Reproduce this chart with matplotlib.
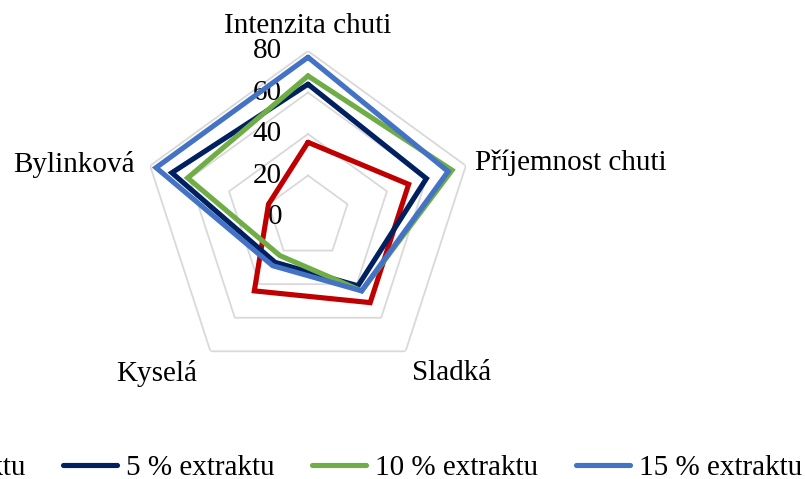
import numpy as np
import matplotlib
matplotlib.use('Agg')
import matplotlib.pyplot as plt

plt.rcParams['font.family'] = ['Liberation Serif', 'DejaVu Serif']

# Sensory profile scores per attribute (clockwise from top)
categories = ['Intenzita chuti', 'Příjemnost chuti', 'Sladká', 'Kyselá', 'Bylinková']
series_names = ['0 % extraktu', '5 % extraktu', '10 % extraktu', '15 % extraktu']
extrakt_0 = [36, 51, 51, 44, 20]
extrakt_5 = [64, 60, 41, 27, 69]
extrakt_10 = [68, 73, 44, 23, 61]
extrakt_15 = [77, 71, 44, 29, 77]
r_ticks = [0, 20, 40, 60, 80]

COLORS = ['#C00000', '#002060', '#70AD47', '#4472C4']
GRID_COLOR = '#D9D9D9'
FONT_SIZE = 21

fig = plt.figure(figsize=(8.05, 4.79), dpi=100)
ax = fig.add_axes([0.1764, 0.2004, 0.4124, 0.6931], projection='polar')
ax.set_theta_offset(np.pi / 2)
ax.set_theta_direction(-1)
ax.set_ylim(0, r_ticks[-1])
ax.grid(False)
ax.spines['polar'].set_visible(False)
ax.set_xticks([])
ax.set_yticks([])

n = len(categories)
theta = np.linspace(0, 2 * np.pi, n, endpoint=False)
theta_closed = np.append(theta, theta[0])

# pentagon gridlines
for r in r_ticks[1:]:
    ax.plot(theta_closed, [r] * (n + 1), color=GRID_COLOR, lw=1.3, zorder=1)

# radial value labels along the top spoke
for r in r_ticks:
    ax.annotate(str(r), xy=(0, r), xytext=(-26, 0), textcoords='offset pixels',
                ha='right', va='center', fontsize=FONT_SIZE, zorder=2)

series = [extrakt_0, extrakt_5, extrakt_10, extrakt_15]
for name, vals, color in zip(series_names, series, COLORS):
    ax.plot(theta_closed, vals + vals[:1], color=color, lw=3.7, label=name,
            solid_joinstyle='miter', solid_capstyle='round', zorder=3)

# category labels just outside the outer ring
label_pos = [
    ((0, 12), 'center', 'bottom'),
    ((9, 3), 'left', 'center'),
    ((6, -9), 'left', 'top'),
    ((-13, -9), 'right', 'top'),
    ((-15, 1), 'right', 'center'),
]
for t, cat, (off, ha, va) in zip(theta, categories, label_pos):
    ax.annotate(cat, xy=(t, r_ticks[-1]), xytext=off, textcoords='offset pixels',
                ha=ha, va=va, fontsize=FONT_SIZE, annotation_clip=False)

fig.legend(loc='center', bbox_to_anchor=(0.3826, 0.023), ncol=4, frameon=False,
           fontsize=FONT_SIZE, handlelength=1.85, handletextpad=0.3,
           columnspacing=1.3)

fig.savefig('out.png', dpi=100)
